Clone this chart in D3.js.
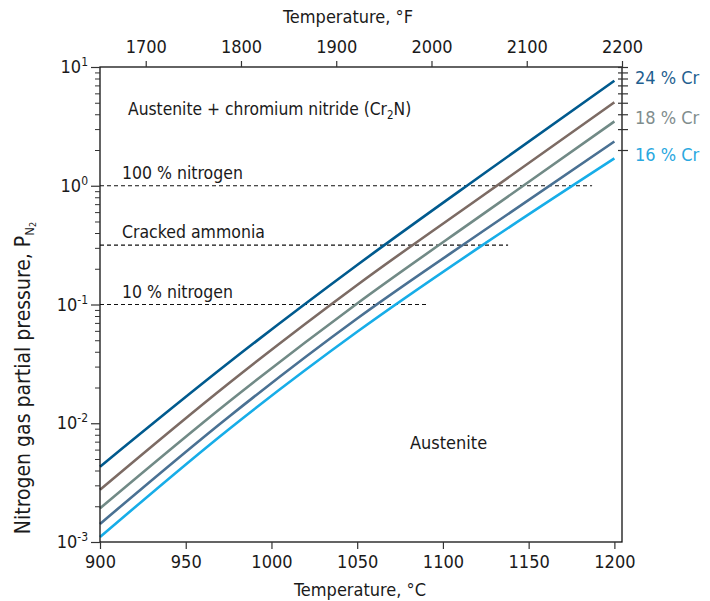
<!DOCTYPE html>
<html><head><meta charset="utf-8">
<script src="https://cdn.jsdelivr.net/npm/d3@7"></script>
<style>
body{margin:0;background:#fff}
svg text{font-family:"Liberation Sans Narrow","DejaVu Sans Condensed",sans-serif;fill:#1a1a1a}
</style>
</head><body><svg id="c" width="710" height="601"></svg>
<script>
// ---- data ----
const temperaturesC = [900, 975, 1050, 1125, 1200];
const seriesNames = ["24 % Cr", "20 % Cr", "18 % Cr", "17 % Cr", "16 % Cr"];
const cr24 = [0.00431, 0.0323, 0.215, 1.30, 7.66];
const cr20 = [0.00275, 0.0216, 0.146, 0.861, 5.04];
const cr18 = [0.00192, 0.0151, 0.102, 0.599, 3.48];
const cr17 = [0.00142, 0.0113, 0.0762, 0.430, 2.36];
const cr16 = [0.00110, 0.00887, 0.0589, 0.330, 1.70];
const seriesColors = ["#005a8e", "#7c6b64", "#718a86", "#4a7193", "#17adE8"];
const labeledSeries = ["24 % Cr", "18 % Cr", "16 % Cr"];
const labelColors = ["#1f5f90", "#7f8d8d", "#2aa8e0"];
const atmosphereNames = ["100 % nitrogen", "Cracked ammonia", "10 % nitrogen"];
const atmospherePressures = [1, 0.316, 0.1];
const atmosphereEndC = [1187, 1138, 1091];
const xTicksC = [900, 950, 1000, 1050, 1100, 1150, 1200];
const xTicksF = [1700, 1800, 1900, 2000, 2100, 2200];
const yExponents = [-3, -2, -1, 0, 1];
const rightTicks = [2, 3, 4, 5, 6, 7, 8, 9, 10];
const regionLabels = ["Austenite + chromium nitride (Cr", "Austenite"];

// ---- layout ----
const L = 100, R = 622, T = 67, B = 542;
const svg = d3.select("#c");
const xMaxC = (2200 - 32) * 5 / 9;
const x = d3.scaleLinear().domain([900, xMaxC]).range([L, R]);
const xF = d3.scaleLinear().domain([900 * 9 / 5 + 32, 2200]).range([L, R]);
const y = d3.scaleLog().domain([1e-3, 10]).range([B, T]);

const series = [cr24, cr20, cr18, cr17, cr16].map((vals, i) => ({
  name: seriesNames[i], color: seriesColors[i],
  pts: vals.map((v, j) => [temperaturesC[j], v])
}));

// dashed atmosphere lines
atmosphereNames.forEach((n, i) => {
  svg.append("line")
    .attr("x1", x(900)).attr("x2", x(atmosphereEndC[i]))
    .attr("y1", y(atmospherePressures[i])).attr("y2", y(atmospherePressures[i]))
    .attr("stroke", "#111").attr("stroke-width", 1.1).attr("stroke-dasharray", "4,3");
  svg.append("text").attr("x", 122).attr("y", y(atmospherePressures[i]) - 7)
    .attr("font-size", 17.5).text(n);
});

// curves
const line = d3.line().x(d => x(d[0])).y(d => y(d[1])).curve(d3.curveMonotoneX);
series.forEach(s => {
  svg.append("path").attr("d", line(s.pts)).attr("fill", "none")
    .attr("stroke", s.color).attr("stroke-width", 2.6);
});

// frame
svg.append("rect").attr("x", L).attr("y", T).attr("width", R - L).attr("height", B - T)
  .attr("fill", "none").attr("stroke", "#111").attr("stroke-width", 1.3);

// bottom axis
const gb = svg.append("g").attr("transform", `translate(0,${B})`)
  .call(d3.axisBottom(x).tickValues(xTicksC).tickSize(7).tickPadding(6).tickFormat(d3.format("d")));
gb.select(".domain").remove();
gb.selectAll("line").attr("stroke", "#333").attr("stroke-width", 1.2);
gb.selectAll("text").attr("font-size", 18).attr("fill", "#1a1a1a");

// top axis
const gt = svg.append("g").attr("transform", `translate(0,${T})`)
  .call(d3.axisTop(xF).tickValues(xTicksF).tickSize(6).tickPadding(8).tickFormat(d3.format("d")));
gt.select(".domain").remove();
gt.selectAll("line").attr("stroke", "#333").attr("stroke-width", 1.2);
gt.selectAll("text").attr("font-size", 18).attr("fill", "#1a1a1a");

// left axis - minor ticks
const minor = [];
for (let e = -3; e < 1; e++) for (let m = 2; m <= 9; m++) minor.push(m * Math.pow(10, e));
const gm = svg.append("g").attr("transform", `translate(${L},0)`)
  .call(d3.axisLeft(y).tickValues(minor).tickSize(5).tickFormat(""));
gm.select(".domain").remove();
gm.selectAll("line").attr("stroke", "#333").attr("stroke-width", 1);
const gl = svg.append("g").attr("transform", `translate(${L},0)`)
  .call(d3.axisLeft(y).tickValues(yExponents.map(e => Math.pow(10, e))).tickSize(9).tickFormat(""));
gl.select(".domain").remove();
gl.selectAll("line").attr("stroke", "#333").attr("stroke-width", 1.2);
yExponents.forEach(e => {
  const t = svg.append("text").attr("x", 88).attr("y", y(Math.pow(10, e)) + 6)
    .attr("text-anchor", "end").attr("font-size", 18);
  t.append("tspan").text("10");
  t.append("tspan").attr("dy", -7).attr("font-size", 12).text(e < 0 ? "-" + (-e) : String(e));
});

// right axis ticks
const gr = svg.append("g").attr("transform", `translate(${R},0)`)
  .call(d3.axisRight(y).tickValues(rightTicks).tickSize(6).tickFormat(""));
gr.select(".domain").remove();
gr.selectAll("line").attr("x1", -4).attr("stroke", "#333").attr("stroke-width", 1.2);

// right labels
labeledSeries.forEach((n, i) => {
  const s = series.find(d => d.name === n);
  const last = s.pts[s.pts.length - 1];
  svg.append("text").attr("x", 635).attr("y", y(last[1]) + 3)
    .attr("font-size", 18).style("fill", labelColors[i]).text(n);
});

// region labels
const t1 = svg.append("text").attr("x", 128).attr("y", 115).attr("font-size", 17.3);
t1.append("tspan").text(regionLabels[0]);
t1.append("tspan").attr("font-size", 11.5).attr("dy", 4).text("2");
t1.append("tspan").attr("dy", -4).text("N)");
svg.append("text").attr("x", 410).attr("y", 449).attr("font-size", 18).text(regionLabels[1]);

// axis titles
svg.append("text").attr("x", 360).attr("y", 596).attr("text-anchor", "middle")
  .attr("font-size", 18).text("Temperature, °C");
svg.append("text").attr("x", 348).attr("y", 23).attr("text-anchor", "middle")
  .attr("font-size", 18).text("Temperature, °F");
const yt = svg.append("text").attr("transform", "translate(30,378) rotate(-90)")
  .attr("text-anchor", "middle").attr("font-size", 21);
yt.append("tspan").text("Nitrogen gas partial pressure, P");
yt.append("tspan").attr("font-size", 13).attr("dy", 4).text("N");
yt.append("tspan").attr("font-size", 9).attr("dy", 2).text("2");
</script>
</body></html>
